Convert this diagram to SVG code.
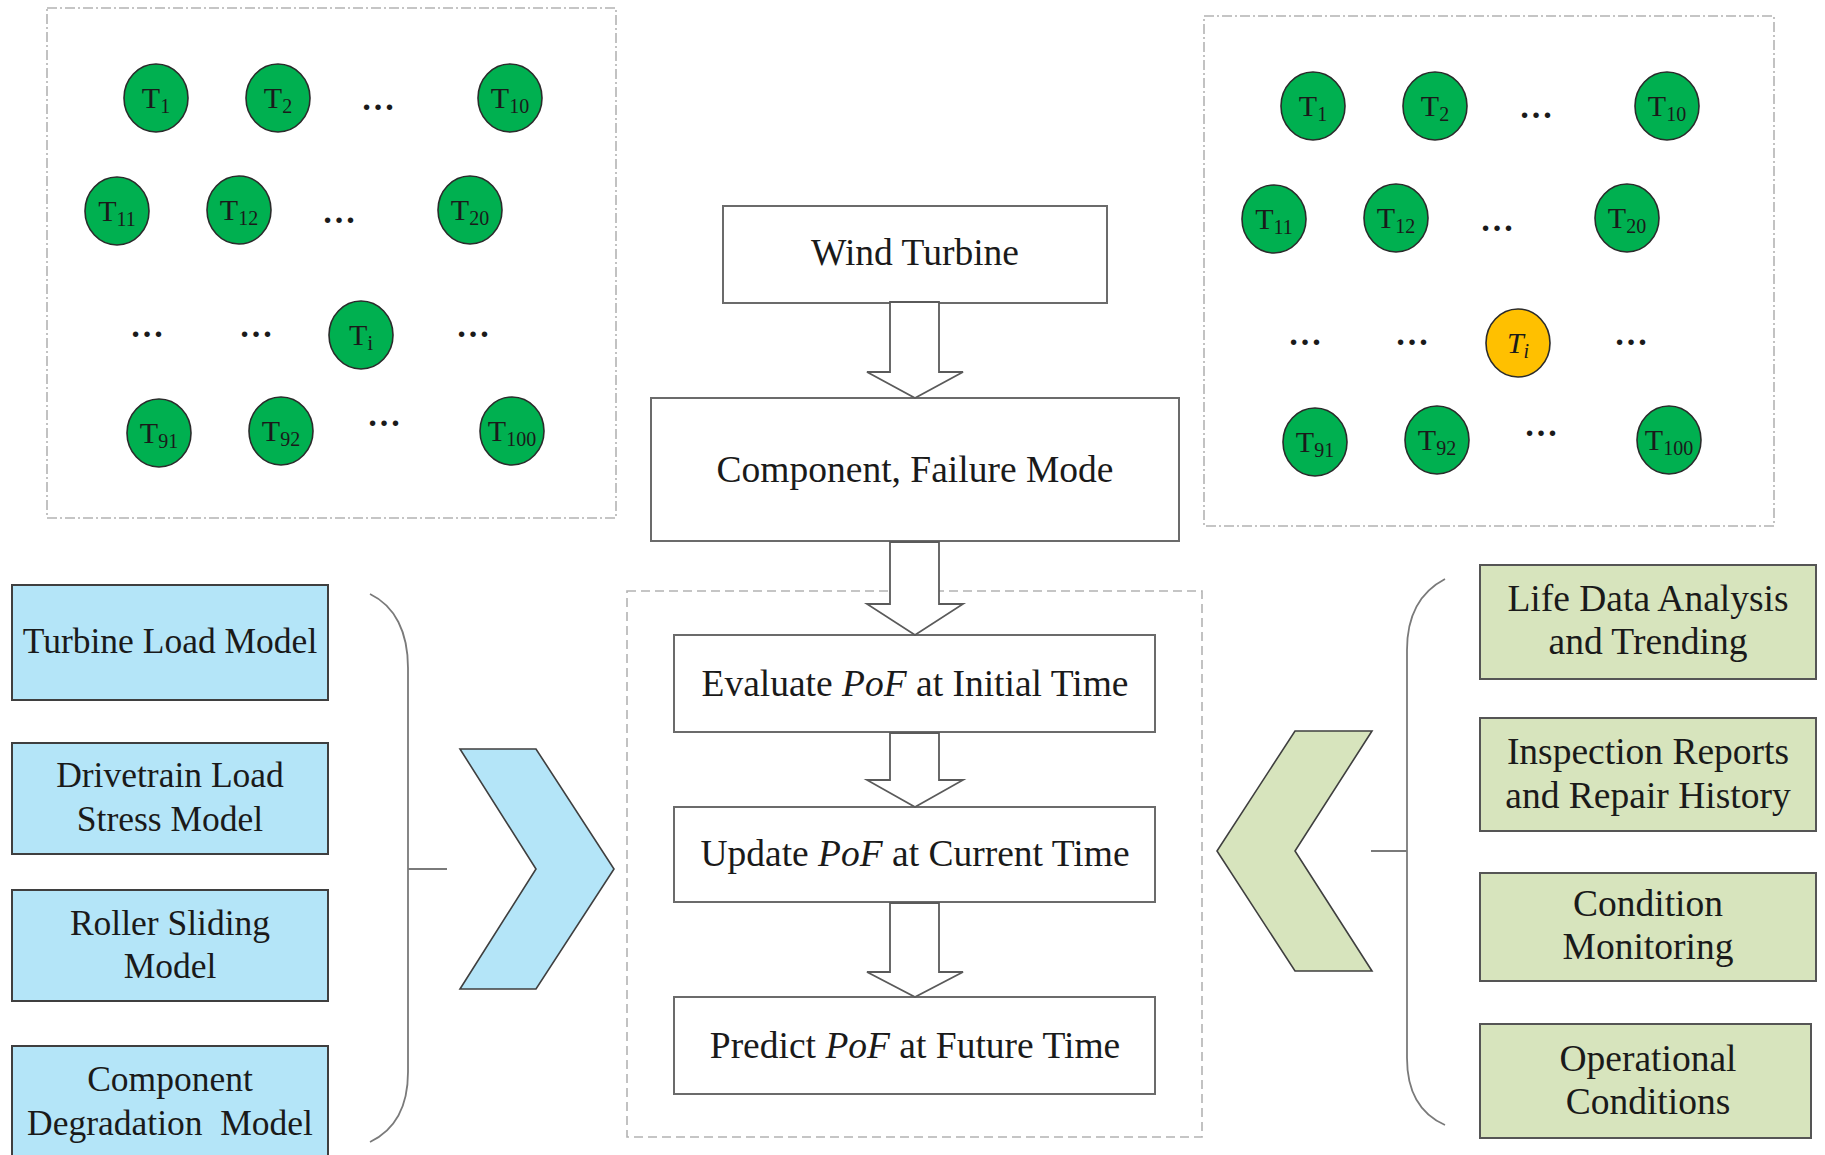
<svg xmlns="http://www.w3.org/2000/svg" width="1825" height="1155" viewBox="0 0 1825 1155">
  <style>
    text { font-family: "Liberation Serif", "Times New Roman", serif; fill: #1a1a1a; }
    .frame { fill: none; stroke: #b3b3b3; stroke-width: 1.6; stroke-dasharray: 10 3 2 3; }
    .frame2 { fill: none; stroke: #b3b3b3; stroke-width: 1.6; stroke-dasharray: 9 5; }
    .t { fill: #00b050; stroke: #2b2b2b; stroke-width: 1.6; }
    .ti { fill: #ffc000; stroke: #2b2b2b; stroke-width: 1.6; }
    .tl { font-size: 30px; text-anchor: middle; }
    .sub { font-size: 20px; }
    .dots { font-size: 34px; font-weight: bold; text-anchor: middle; }
    .wbox { fill: #ffffff; stroke: #6b6b6b; stroke-width: 2; }
    .bbox { fill: #b4e5f8; stroke: #3f3f3f; stroke-width: 2; }
    .gbox { fill: #d7e4bd; stroke: #555555; stroke-width: 2; }
    .lbl { font-size: 37.5px; text-anchor: middle; }
    .lbl2 { font-size: 35.5px; text-anchor: middle; }
    .barrow { fill: #ffffff; stroke: #5a5a5a; stroke-width: 1.8; stroke-linejoin: miter; }
    .brace { fill: none; stroke: #7a7a7a; stroke-width: 1.8; }
    .chev-b { fill: #b4e5f8; stroke: #3f3f3f; stroke-width: 1.6; }
    .chev-g { fill: #d7e4bd; stroke: #3f3f3f; stroke-width: 1.6; }
  </style>

  <!-- wind farm, all turbines healthy -->
  <g id="farm-left">
    <rect class="frame" x="47" y="8" width="569" height="510"/>
    <g id="L-T1"><ellipse class="t" cx="156" cy="98" rx="32" ry="34"/><text class="tl" x="156" y="108">T<tspan class="sub" dy="5">1</tspan></text></g>
    <g id="L-T2"><ellipse class="t" cx="278" cy="98" rx="32" ry="34"/><text class="tl" x="278" y="108">T<tspan class="sub" dy="5">2</tspan></text></g>
    <text class="dots" x="378" y="110">…</text>
    <g id="L-T10"><ellipse class="t" cx="510" cy="98" rx="32" ry="34"/><text class="tl" x="510" y="108">T<tspan class="sub" dy="5">10</tspan></text></g>

    <g id="L-T11"><ellipse class="t" cx="117" cy="211" rx="32" ry="34"/><text class="tl" x="117" y="221">T<tspan class="sub" dy="5">11</tspan></text></g>
    <g id="L-T12"><ellipse class="t" cx="239" cy="210" rx="32" ry="34"/><text class="tl" x="239" y="220">T<tspan class="sub" dy="5">12</tspan></text></g>
    <text class="dots" x="339" y="223">…</text>
    <g id="L-T20"><ellipse class="t" cx="470" cy="210" rx="32" ry="34"/><text class="tl" x="470" y="220">T<tspan class="sub" dy="5">20</tspan></text></g>

    <text class="dots" x="147" y="337">…</text>
    <text class="dots" x="256" y="337">…</text>
    <g id="L-Ti"><ellipse class="t" cx="361" cy="335" rx="32" ry="34"/><text class="tl" x="361" y="345">T<tspan class="sub" dy="5">i</tspan></text></g>
    <text class="dots" x="473" y="337">…</text>

    <g id="L-T91"><ellipse class="t" cx="159" cy="433" rx="32" ry="34"/><text class="tl" x="159" y="443">T<tspan class="sub" dy="5">91</tspan></text></g>
    <g id="L-T92"><ellipse class="t" cx="281" cy="431" rx="32" ry="34"/><text class="tl" x="281" y="441">T<tspan class="sub" dy="5">92</tspan></text></g>
    <text class="dots" x="384" y="426">…</text>
    <g id="L-T100"><ellipse class="t" cx="512" cy="431" rx="32" ry="34"/><text class="tl" x="512" y="441">T<tspan class="sub" dy="5">100</tspan></text></g>
  </g>

  <!-- wind farm, turbine i selected -->
  <g id="farm-right">
    <rect class="frame" x="1204" y="16" width="570" height="510"/>
    <g id="R-T1"><ellipse class="t" cx="1313" cy="106" rx="32" ry="34"/><text class="tl" x="1313" y="116">T<tspan class="sub" dy="5">1</tspan></text></g>
    <g id="R-T2"><ellipse class="t" cx="1435" cy="106" rx="32" ry="34"/><text class="tl" x="1435" y="116">T<tspan class="sub" dy="5">2</tspan></text></g>
    <text class="dots" x="1536" y="118">…</text>
    <g id="R-T10"><ellipse class="t" cx="1667" cy="106" rx="32" ry="34"/><text class="tl" x="1667" y="116">T<tspan class="sub" dy="5">10</tspan></text></g>

    <g id="R-T11"><ellipse class="t" cx="1274" cy="219" rx="32" ry="34"/><text class="tl" x="1274" y="229">T<tspan class="sub" dy="5">11</tspan></text></g>
    <g id="R-T12"><ellipse class="t" cx="1396" cy="218" rx="32" ry="34"/><text class="tl" x="1396" y="228">T<tspan class="sub" dy="5">12</tspan></text></g>
    <text class="dots" x="1497" y="231">…</text>
    <g id="R-T20"><ellipse class="t" cx="1627" cy="218" rx="32" ry="34"/><text class="tl" x="1627" y="228">T<tspan class="sub" dy="5">20</tspan></text></g>

    <text class="dots" x="1305" y="345">…</text>
    <text class="dots" x="1412" y="345">…</text>
    <g id="R-Ti"><ellipse class="ti" cx="1518" cy="343" rx="32" ry="34"/><text class="tl" x="1518" y="353" font-style="italic">T<tspan class="sub" dy="5">i</tspan></text></g>
    <text class="dots" x="1631" y="345">…</text>

    <g id="R-T91"><ellipse class="t" cx="1315" cy="442" rx="32" ry="34"/><text class="tl" x="1315" y="452">T<tspan class="sub" dy="5">91</tspan></text></g>
    <g id="R-T92"><ellipse class="t" cx="1437" cy="440" rx="32" ry="34"/><text class="tl" x="1437" y="450">T<tspan class="sub" dy="5">92</tspan></text></g>
    <text class="dots" x="1541" y="436">…</text>
    <g id="R-T100"><ellipse class="t" cx="1669" cy="440" rx="32" ry="34"/><text class="tl" x="1669" y="450">T<tspan class="sub" dy="5">100</tspan></text></g>
  </g>

  <!-- PoF evaluation frame -->
  <rect id="pof-frame" class="frame2" x="627" y="591" width="575" height="546"/>

  <!-- central flow -->
  <g id="wind-turbine">
    <rect class="wbox" x="723" y="206" width="384" height="97"/>
    <text class="lbl" x="915" y="265">Wind Turbine</text>
  </g>
  <g id="component">
    <rect class="wbox" x="651" y="398" width="528" height="143"/>
    <text class="lbl" x="915" y="482">Component, Failure Mode</text>
  </g>
  <g id="evaluate">
    <rect class="wbox" x="674" y="635" width="481" height="97"/>
    <text class="lbl" x="915" y="696">Evaluate <tspan font-style="italic">PoF</tspan> at Initial Time</text>
  </g>
  <g id="update">
    <rect class="wbox" x="674" y="807" width="481" height="95"/>
    <text class="lbl" x="915" y="866">Update <tspan font-style="italic">PoF</tspan> at Current Time</text>
  </g>
  <g id="predict">
    <rect class="wbox" x="674" y="997" width="481" height="97"/>
    <text class="lbl" x="915" y="1058">Predict <tspan font-style="italic">PoF</tspan> at Future Time</text>
  </g>

  <!-- physics-based models -->
  <g id="turbine-load">
    <rect class="bbox" x="12" y="585" width="316" height="115"/>
    <text class="lbl2" x="170" y="653">Turbine Load Model</text>
  </g>
  <g id="drivetrain">
    <rect class="bbox" x="12" y="743" width="316" height="111"/>
    <text class="lbl2" x="170" y="787">Drivetrain Load</text>
    <text class="lbl2" x="170" y="831">Stress Model</text>
  </g>
  <g id="roller">
    <rect class="bbox" x="12" y="890" width="316" height="111"/>
    <text class="lbl2" x="170" y="935">Roller Sliding</text>
    <text class="lbl2" x="170" y="978">Model</text>
  </g>
  <g id="degradation">
    <rect class="bbox" x="12" y="1046" width="316" height="118"/>
    <text class="lbl2" x="170" y="1091">Component</text>
    <text class="lbl2" x="170" y="1135" xml:space="preserve">Degradation  Model</text>
  </g>

  <!-- field data sources -->
  <g id="life-data">
    <rect class="gbox" x="1480" y="565" width="336" height="114"/>
    <text class="lbl" x="1648" y="611">Life Data Analysis</text>
    <text class="lbl" x="1648" y="654">and Trending</text>
  </g>
  <g id="inspection">
    <rect class="gbox" x="1480" y="718" width="336" height="113"/>
    <text class="lbl" x="1648" y="764">Inspection Reports</text>
    <text class="lbl" x="1648" y="808">and Repair History</text>
  </g>
  <g id="condition">
    <rect class="gbox" x="1480" y="873" width="336" height="108"/>
    <text class="lbl" x="1648" y="916">Condition</text>
    <text class="lbl" x="1648" y="959">Monitoring</text>
  </g>
  <g id="operational">
    <rect class="gbox" x="1480" y="1024" width="331" height="114"/>
    <text class="lbl" x="1648" y="1071">Operational</text>
    <text class="lbl" x="1648" y="1114">Conditions</text>
  </g>

  <!-- inputs feeding the evaluation -->
  <g id="chevron-right">
    <polygon class="chev-b" points="460,749 536,749 614,869 536,989 460,989 536,869"/>
  </g>
  <g id="chevron-left">
    <polygon class="chev-g" points="1295,731 1372,731 1295,851 1372,971 1295,971 1217,851"/>
  </g>

  <g id="connectors">
    <!-- hollow block arrows down the central flow -->
    <polygon class="barrow" points="890,302 890,372 867,372 915,398 963,372 939,372 939,302"/>
    <polygon class="barrow" points="890,542 890,604 867,604 915,635 963,604 939,604 939,542"/>
    <polygon class="barrow" points="890,733 890,780 867,780 915,807 963,780 939,780 939,733"/>
    <polygon class="barrow" points="890,903 890,972 867,972 915,997 963,972 939,972 939,903"/>
    <!-- braces gathering the side boxes -->
    <path class="brace" d="M370,594 C395,606 408,632 408,668 L408,1072 C408,1106 395,1130 370,1142"/>
    <line class="brace" x1="408" y1="869" x2="447" y2="869"/>
    <path class="brace" d="M1445,579 C1420,592 1407,615 1407,650 L1407,1058 C1407,1092 1420,1114 1445,1125"/>
    <line class="brace" x1="1371" y1="851" x2="1407" y2="851"/>
  </g>
</svg>
